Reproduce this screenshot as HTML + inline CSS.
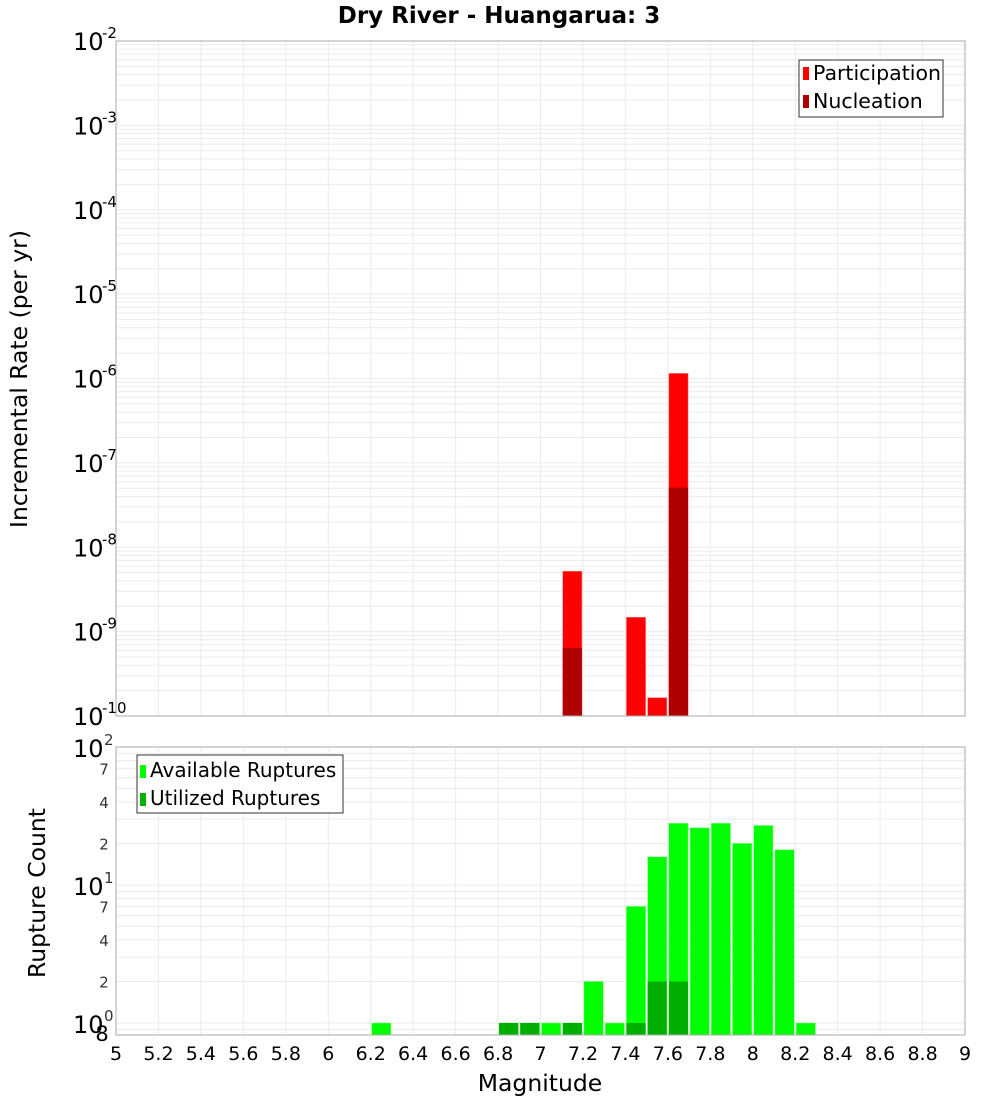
<!DOCTYPE html>
<html><head><meta charset="utf-8"><style>
body{margin:0;background:#fff;}
svg text{font-family:"DejaVu Sans","Liberation Sans",sans-serif;}
</style></head><body>
<svg id="c" width="1000" height="1100" xmlns="http://www.w3.org/2000/svg"></svg>
<script>
const binCenters = [6.25,6.85,6.95,7.05,7.15,7.25,7.35,7.45,7.55,7.65,7.75,7.85,7.95,8.05,8.15,8.25];
const availableCounts = [1,1,1,1,1,2,1,7,16,28,26,28,20,27,18,1];
const utilizedMags = [6.85,6.95,7.15,7.45,7.55,7.65];
const utilizedCounts = [1,1,1,1,2,2];
const rateMags = [7.15,7.45,7.55,7.65];
const participationRates = [5.2e-9,1.48e-9,1.65e-10,1.15e-6];
const nucleationMags = [7.15,7.65];
const nucleationRates = [6.4e-10,5.1e-8];
const xTicks = [5,5.2,5.4,5.6,5.8,6,6.2,6.4,6.6,6.8,7,7.2,7.4,7.6,7.8,8,8.2,8.4,8.6,8.8,9];
const topDecades = [-10,-9,-8,-7,-6,-5,-4,-3,-2];
const botMinorLabels = [2,4,7,20,40,70];

const svg = document.getElementById('c');
const NS = 'http://www.w3.org/2000/svg';
function el(tag, attrs, parent){const e=document.createElementNS(NS,tag);for(const k in attrs)e.setAttribute(k,attrs[k]);(parent||svg).appendChild(e);return e;}
const L=116,R=965;
const x = m => L + (m-5)/(9-5)*(R-L);
const T1=41,B1=716;
const yTop = v => T1 + (-2 - Math.log10(v))/8*(B1-T1);
const T2=747, dec2=138;
const yBot = v => T2 + (2 - Math.log10(v))*dec2;
const B2=1035;
const binW=0.1;

let t=el('text',{x:499,y:23,'text-anchor':'middle','font-size':23,'font-weight':'bold'});
t.textContent='Dry River - Huangarua: 3';



function grid(g,T,B,yf,lo,hi){
  for(let d=lo; d<hi; d++){for(let k=1;k<10;k++){const v=k*Math.pow(10,d);const yy=yf(v);if(yy<T-0.5||yy>B+0.5)continue;
    el('line',{x1:L,x2:R,y1:yy,y2:yy,stroke:'#ebebeb','stroke-width':1},g);}}
  xTicks.forEach(m=>{el('line',{x1:x(m),x2:x(m),y1:T,y2:B,stroke:'#ebebeb','stroke-width':1},g);});
}
const g1=el('g',{});


el('rect',{x:L,y:T1,width:R-L,height:B1-T1,fill:'#fff'},g1);
grid(g1,T1,B1,yTop,-10,-2);
rateMags.forEach((m,i)=>{const r=el('rect',{x:x(m-binW/2)+1,y:yTop(participationRates[i]),width:x(m+binW/2)-x(m-binW/2)-2,height:B1-yTop(participationRates[i]),fill:'#ff0000',stroke:'#ff8080','stroke-width':0.5},g1);
  
  });
nucleationMags.forEach((m,i)=>{const r=el('rect',{x:x(m-binW/2)+1,y:yTop(nucleationRates[i]),width:x(m+binW/2)-x(m-binW/2)-2,height:B1-yTop(nucleationRates[i]),fill:'#b00000'},g1);
  
  });
el('rect',{x:L,y:T1,width:R-L,height:B1-T1,fill:'none',stroke:'#aaa','stroke-width':1},g1);
topDecades.forEach(d=>{const yy=yTop(Math.pow(10,d));
  const tx=el('text',{x:73,y:yy+9,'font-size':24});tx.textContent='10';
  
  
  const s=el('text',{x:102,y:yy-3,'font-size':15});s.textContent=String(d);});
t=el('text',{x:0,y:0,'font-size':23.5,'text-anchor':'middle',transform:'translate(27,379) rotate(-90)'});t.textContent='Incremental Rate (per yr)';


const lg1=el('g',{});


el('rect',{x:799,y:60,width:144,height:57,fill:'#fff',stroke:'#333','stroke-width':1},lg1);
el('rect',{x:803,y:67,width:6,height:13,fill:'#ff0000'},lg1);
el('rect',{x:803,y:95,width:6,height:13,fill:'#b00000'},lg1);
t=el('text',{x:813,y:80,'font-size':20.5},lg1);t.textContent='Participation';
t=el('text',{x:813,y:108,'font-size':20.5},lg1);t.textContent='Nucleation';

const g2=el('g',{});


el('rect',{x:L,y:T2,width:R-L,height:B2-T2,fill:'#fff'},g2);
grid(g2,T2,B2,yBot,-1,2);
binCenters.forEach((m,i)=>{const r=el('rect',{x:x(m-binW/2)+1,y:yBot(availableCounts[i]),width:x(m+binW/2)-x(m-binW/2)-2,height:B2-yBot(availableCounts[i]),fill:'#00ff00',stroke:'#80ff80','stroke-width':0.5},g2);
  
  });
utilizedMags.forEach((m,i)=>{const r=el('rect',{x:x(m-binW/2)+1,y:yBot(utilizedCounts[i]),width:x(m+binW/2)-x(m-binW/2)-2,height:B2-yBot(utilizedCounts[i]),fill:'#00b000'},g2);
  
  });
el('rect',{x:L,y:T2,width:R-L,height:B2-T2,fill:'none',stroke:'#aaa','stroke-width':1},g2);
[0,1,2].forEach(d=>{const yy=yBot(Math.pow(10,d));
  const tx=el('text',{x:73,y:yy+10,'font-size':24});tx.textContent='10';
  
  
  const s=el('text',{x:104,y:yy-2,'font-size':15,fill:'#333'});s.textContent=String(d);});
botMinorLabels.forEach(v=>{const tx=el('text',{x:104,y:yBot(v)+6,'font-size':15,fill:'#333','text-anchor':'middle'});tx.textContent=String(v).charAt(0);});
t=el('text',{x:102,y:1041,'font-size':21,'text-anchor':'middle'});t.textContent='8';
t=el('text',{x:0,y:0,'font-size':23.5,'text-anchor':'middle',transform:'translate(45,893) rotate(-90)'});t.textContent='Rupture Count';


const lg2=el('g',{});


el('rect',{x:137,y:755,width:206,height:58,fill:'#fff',stroke:'#333','stroke-width':1},lg2);
el('rect',{x:140,y:765,width:6,height:13,fill:'#00ff00'},lg2);
el('rect',{x:140,y:793,width:6,height:13,fill:'#00b000'},lg2);
t=el('text',{x:150,y:777,'font-size':20},lg2);t.textContent='Available Ruptures';
t=el('text',{x:150,y:805,'font-size':20},lg2);t.textContent='Utilized Ruptures';

xTicks.forEach(m=>{const tx=el('text',{x:x(m),y:1060,'font-size':19,'text-anchor':'middle'});tx.textContent=String(m);
  
  });
t=el('text',{x:540,y:1091,'font-size':23.5,'text-anchor':'middle'});t.textContent='Magnitude';


</script>
</body></html>
